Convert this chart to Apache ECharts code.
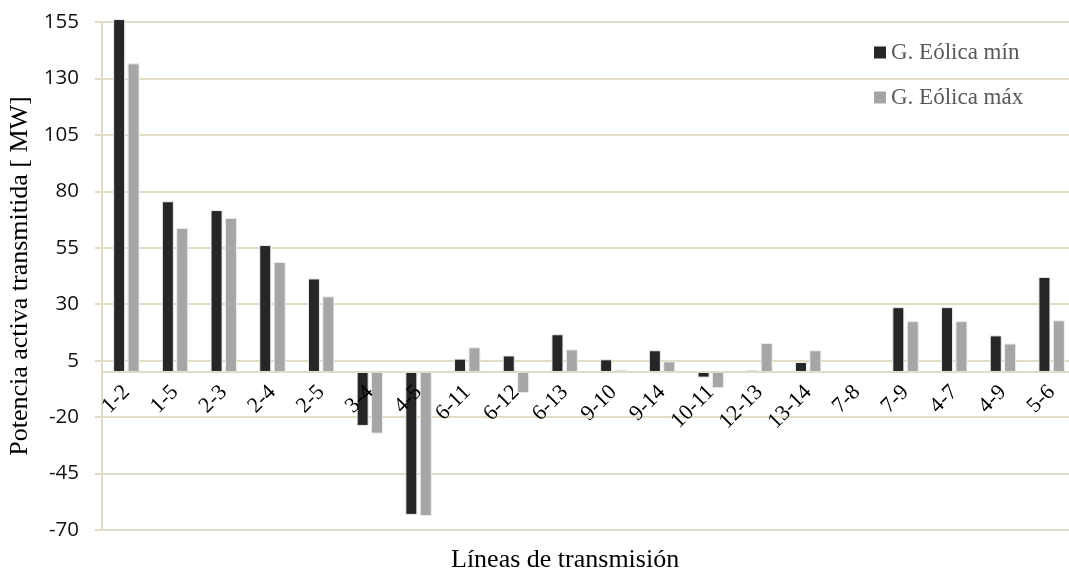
<!DOCTYPE html>
<html>
<head>
<meta charset="utf-8">
<script src="https://cdn.jsdelivr.net/npm/echarts@6/dist/echarts.min.js"></script>
<style>html,body{margin:0;padding:0;background:#fff}#c{width:1069px;height:572px}</style>
</head>
<body>
<div id="c"></div>
<script>
const categories = ['1-2','1-5','2-3','2-4','2-5','3-4','4-5','6-11','6-12','6-13','9-10','9-14','10-11','12-13','13-14','7-8','7-9','4-7','4-9','5-6'];
const eolicaMin = [156.3, 75.6, 71.7, 56.2, 41.4, -23.9, -63.3, 5.9, 7.3, 16.7, 5.6, 9.6, -2.5, 0.9, 4.4, 0, 28.7, 28.7, 16.2, 42.1];
const eolicaMax = [136.7, 63.8, 68.2, 48.7, 33.5, -27.3, -63.8, 10.9, -9.4, 10.0, 1.0, 4.7, -7.2, 12.8, 9.6, 0, 22.5, 22.5, 12.6, 22.9];
const yTicks = [-70, -45, -20, 5, 30, 55, 80, 105, 130, 155];
const seriesNames = ['G. Eólica mín', 'G. Eólica máx'];

const chart = echarts.init(document.getElementById('c'));
const serif = '"Liberation Serif", "Times New Roman", serif';
const lineCol = '#e0dcc6';
const yMin = yTicks[0], yMax = yTicks[yTicks.length - 1];
chart.setOption({
  animation: false,
  grid: { left: 102, right: -7, top: 22, bottom: 42, containLabel: false, outerBoundsMode: 'none' },
  title: {
    text: 'Líneas de transmisión', left: 446, top: 542,
    textStyle: { fontFamily: serif, fontSize: 26, fontWeight: 'normal', color: '#000' }
  },
  legend: {
    data: seriesNames, orient: 'vertical', left: 869, top: 36,
    icon: 'rect', itemWidth: 12, itemHeight: 12, itemGap: 22,
    textStyle: { fontFamily: serif, fontSize: 23, color: '#595959', lineHeight: 23 },
    itemStyle: { borderWidth: 0 }
  },
  xAxis: {
    type: 'category', data: categories, z: 5,
    axisLine: { onZero: false, lineStyle: { color: lineCol, width: 2 } },
    axisTick: { show: false },
    axisLabel: { rotate: 45, interval: 0, margin: 17, fontFamily: serif, fontSize: 22, color: '#000' },
    splitLine: { show: false }
  },
  yAxis: {
    type: 'value', min: yMin, max: yMax, interval: 25,
    name: 'Potencia activa transmitida [ MW]', nameLocation: 'middle', nameGap: 66,
    nameTextStyle: { fontFamily: serif, fontSize: 26, color: '#000' },
    axisLine: { show: true, lineStyle: { color: lineCol, width: 2 } },
    axisTick: { show: true, inside: false, length: 7, lineStyle: { color: lineCol, width: 2 } },
    axisLabel: { margin: 23, fontFamily: '"Open Sans", sans-serif', fontSize: 20.5, color: '#111' },
    splitLine: { show: true, lineStyle: { color: lineCol, width: 2 } }
  },
  series: [
    { name: seriesNames[0], type: 'bar', data: eolicaMin, barWidth: 12, barGap: '20%', clip: false,
      itemStyle: { color: '#262626', borderColor: '#ececec', borderWidth: 1 } },
    { name: seriesNames[1], type: 'bar', data: eolicaMax, barWidth: 12, clip: false,
      itemStyle: { color: '#a6a6a6', borderColor: '#ececec', borderWidth: 1 } }
  ]
});
// place the category axis on the zero line, using the value axis scale
const zeroY = chart.convertToPixel({ yAxisIndex: 0 }, 0);
const bottomY = chart.convertToPixel({ yAxisIndex: 0 }, yMin);
chart.setOption({ xAxis: { offset: zeroY - bottomY } });
</script>
</body>
</html>
